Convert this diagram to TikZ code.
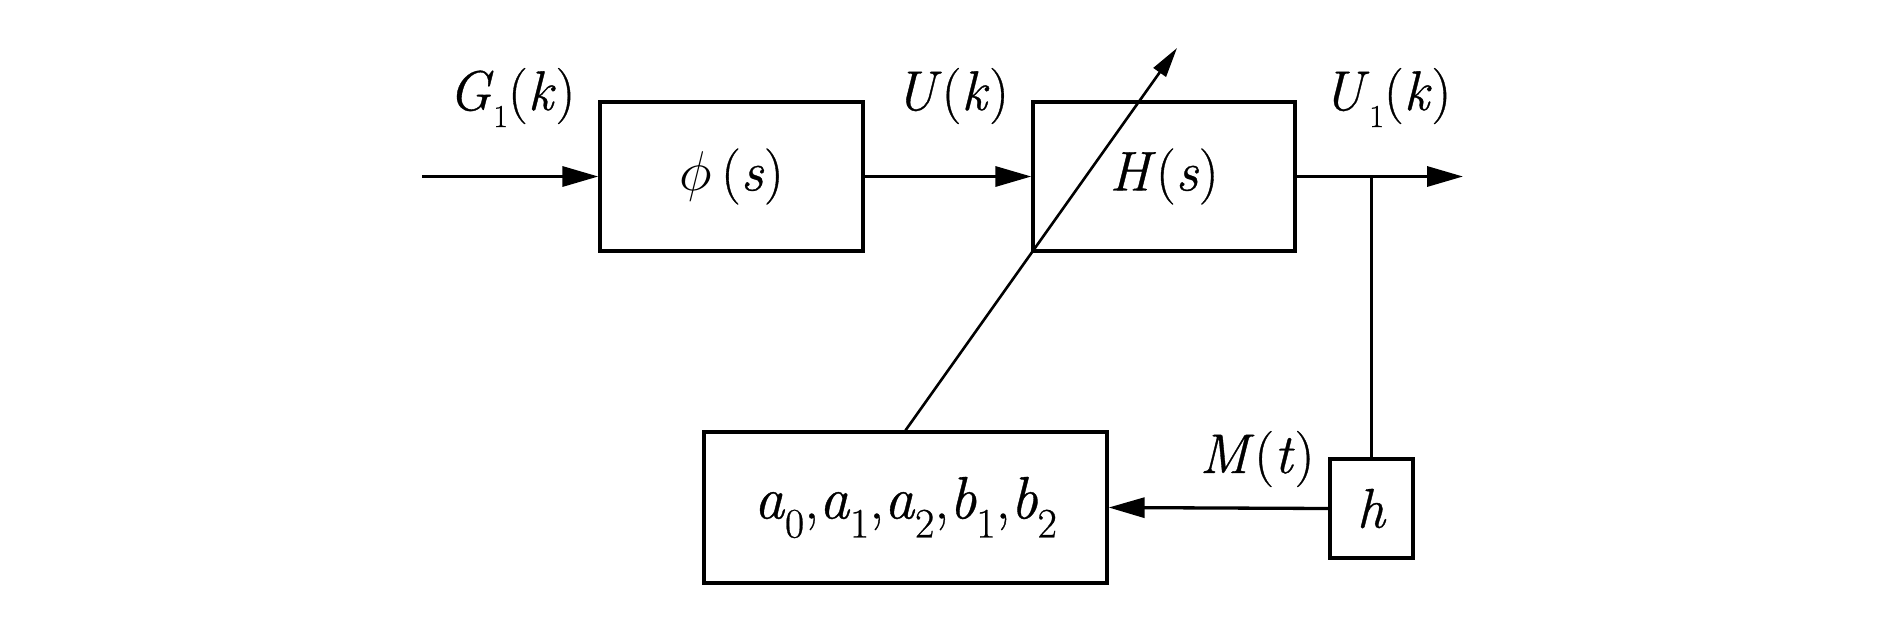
\RequirePackage{fix-cm}
\documentclass[tikz,border=0pt]{standalone}
\usepackage{fontspec}
\setmainfont{Latin Modern Roman}[FakeBold=0.6]
\usetikzlibrary{arrows.meta}
\newcommand\lsubA[1]{\raisebox{-8.5pt}{\fontsize{16}{16}\selectfont #1}}
\newcommand\lsubB[1]{\raisebox{-9.5pt}{\fontsize{21}{21}\selectfont #1}}
\tikzset{
  blk/.style={draw, line width=1.65pt, inner sep=0pt, font=\fontsize{28}{34}\selectfont},
  lbl/.style={anchor=base, inner sep=0pt, font=\fontsize{28}{34}\selectfont},
  conn/.style={line width=1.65pt},
  arr/.style={conn, -{Triangle[length=18pt,width=10pt]}},
  darr/.style={line width=1.3pt, -{Triangle[length=15pt,width=7.5pt]}}
}
\begin{document}
\begin{tikzpicture}[x=0.5pt,y=-0.5pt]
\useasboundingbox (0,0) rectangle (1890,638);
% boxes
\node[blk, minimum width=131.5pt, minimum height=74.5pt] (phi) at (731.5,176.5) {$\phi$\,(\textit{s})};
\node[blk, minimum width=131pt, minimum height=74.5pt] (H) at (1164,176.5) {\textit{H}(\textit{s})};
\node[blk, minimum width=201.5pt, minimum height=75.5pt, font=\fontsize{30}{36}\selectfont] (abox) at (905.5,507.5)
  {\textit{a}\lsubB{0},\textit{a}\lsubB{1},\textit{a}\lsubB{2},\textit{b}\lsubB{1},\textit{b}\lsubB{2}};
\node[blk, minimum width=41.5pt, minimum height=49.5pt] (hbox) at (1371.5,508.5) {\textit{h}};
% coordinates
\coordinate (in) at (422,176.5);
\coordinate (out) at (1463,176.5);
\coordinate (j) at (1371.5,176.5);
\coordinate (tipD) at (1177,48);
% connectors
\draw[arr] (in) -- (phi.west);
\draw[arr] (phi.east) -- (H.west);
\draw[arr] (H.east) -- (out);
\draw[conn] (j) -- (hbox.north);
\draw[arr] (hbox.west) -- (abox.east);
\draw[darr] (abox.north) -- (tipD);
% labels
\node[lbl] (lG) at (512,110) {\textit{G}\lsubA{1}(\textit{k})};
\node[lbl] (lU) at (952,110) {\textit{U}(\textit{k})};
\node[lbl] (lU1) at (1387,110) {\textit{U}\lsubA{1}(\textit{k})};
\node[lbl] (lM) at (1257,473) {\textit{M}(\textit{t})};
\end{tikzpicture}
\end{document}
